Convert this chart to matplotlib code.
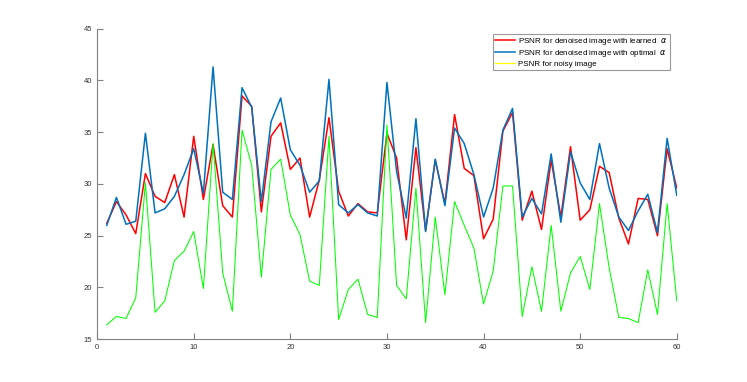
import numpy as np
import matplotlib
matplotlib.use("Agg")
import matplotlib.pyplot as plt
from matplotlib.lines import Line2D

plt.rcParams['font.family'] = ['Liberation Sans', 'DejaVu Sans']

x = np.arange(1, 61)

learned = [26.2, 28.3, 27.0, 25.2, 31.0, 28.8, 28.2, 30.9, 26.8, 34.6,
           28.5, 33.8, 27.9, 26.8, 38.5, 37.5, 27.3, 34.6, 35.9, 31.4,
           32.5, 26.8, 30.4, 36.4, 29.3, 26.9, 28.1, 27.3, 27.2, 34.9,
           32.5, 24.6, 33.5, 25.5, 32.3, 28.1, 36.7, 31.5, 30.8, 24.7,
           26.6, 35.1, 36.9, 26.5, 29.3, 25.6, 32.3, 26.8, 33.6, 26.5,
           27.5, 31.7, 31.1, 26.7, 24.2, 28.6, 28.5, 25.0, 33.4, 29.6]

optimal = [26.0, 28.7, 26.1, 26.4, 34.9, 27.2, 27.6, 28.8, 30.9, 33.4,
           29.1, 41.3, 29.2, 28.5, 39.3, 37.4, 28.3, 36.0, 38.3, 33.3,
           31.8, 29.2, 30.3, 40.1, 28.0, 27.2, 28.0, 27.2, 26.9, 39.8,
           31.2, 26.7, 36.3, 25.4, 32.4, 27.9, 35.4, 33.9, 30.9, 26.8,
           29.6, 35.2, 37.3, 26.8, 28.6, 27.1, 32.9, 26.3, 33.1, 30.1,
           28.5, 33.9, 29.6, 26.8, 25.5, 27.4, 29.0, 25.3, 34.4, 28.9]

noisy = [16.4, 17.2, 17.0, 19.0, 30.1, 17.6, 18.7, 22.6, 23.5, 25.4,
         19.9, 33.9, 21.4, 17.7, 35.2, 31.8, 21.0, 31.4, 32.4, 27.0,
         25.1, 20.6, 20.2, 34.6, 16.9, 19.8, 20.8, 17.4, 17.1, 35.7,
         20.2, 18.9, 29.6, 16.6, 26.8, 19.3, 28.3, 26.0, 23.8, 18.4,
         21.6, 29.8, 29.8, 17.2, 22.0, 17.7, 26.0, 17.7, 21.4, 23.0,
         19.8, 28.1, 21.9, 17.1, 17.0, 16.6, 21.7, 17.4, 28.1, 18.7]

labels = [r"PSNR for denoised image with learned  $\alpha$",
          r"PSNR for denoised image with optimal  $\alpha$",
          "PSNR for noisy image"]

fig = plt.figure(figsize=(7.47, 3.82), dpi=100)
ax = fig.add_axes([0.130, 0.112, 0.776, 0.813])

ax.plot(x, learned, color="#ff0000", lw=1.1)
ax.plot(x, optimal, color="#0072bd", lw=1.1)
ax.plot(x, noisy, color="#00ff00", lw=0.75)

ax.set_xlim(0, 60)
ax.set_ylim(15, 45)
ax.set_xticks(np.arange(0, 61, 10))
ax.set_yticks(np.arange(15, 46, 5))

for s in ["top", "right"]:
    ax.spines[s].set_visible(False)
for s in ["left", "bottom"]:
    ax.spines[s].set_color("#808080")
    ax.spines[s].set_linewidth(0.8)
ax.tick_params(direction="in", length=4, width=0.8, colors="#808080",
               labelsize=5.5, labelcolor="#333333")

# legend handle for noisy series is yellow in the original
handles = [Line2D([], [], color="#ff0000", lw=1.1),
           Line2D([], [], color="#0072bd", lw=1.1),
           Line2D([], [], color="#ffff00", lw=0.9)]
leg = ax.legend(handles, labels, loc="upper right", bbox_to_anchor=(0.988, 0.982),
                borderaxespad=0, fontsize=5.8, frameon=True, fancybox=False,
                handlelength=2.5, handletextpad=0.4, borderpad=0.25,
                labelspacing=0.1)
leg.get_frame().set_edgecolor("#808080")
leg.get_frame().set_linewidth(0.8)

fig.savefig("out.png", dpi=100)
